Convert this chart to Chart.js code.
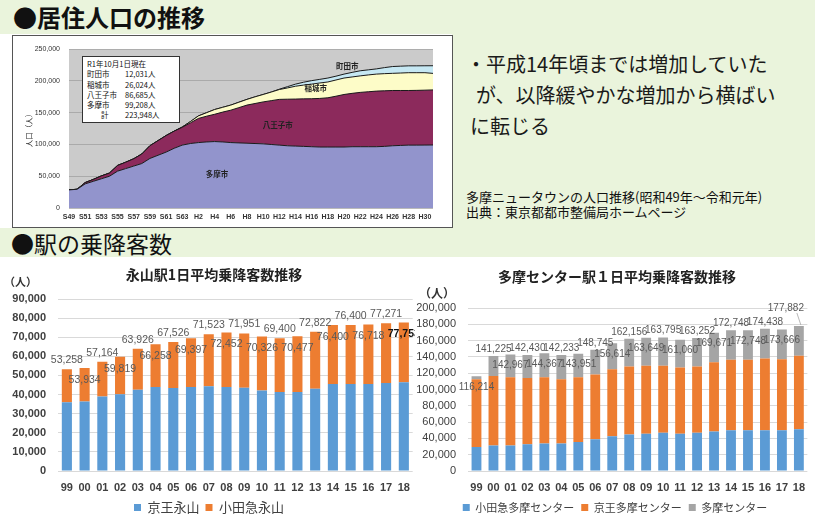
<!DOCTYPE html>
<html lang="ja">
<head>
<meta charset="utf-8">
<script src="https://cdn.jsdelivr.net/npm/chart.js@4.4.1/dist/chart.umd.min.js"></script>
<style>
  html, body { margin: 0; padding: 0; }
  body { width: 815px; height: 517px; overflow: hidden; position: relative; background: #fff;
         font-family: "Noto Sans CJK JP", sans-serif; color: #111; }
  .abs { position: absolute; }
  .band { position: absolute; background: #eaf4dc; }
  .head { position: absolute; font-size: 23px; line-height: 23px; white-space: nowrap; }
  #popFrame { left: 12px; top: 35px; width: 439px; height: 191px; border: 1px solid #555; background: #fff; }
  #note { left: 82px; top: 56px; width: 96px; height: 63px; border: 1px solid #333; background: #fff;
          font-size: 7.5px; line-height: 10.3px; padding-top: 2px; box-sizing: content-box; }
  #note div { display: flex; padding-left: 4px; white-space: nowrap; }
  #note .n { width: 38px; }
  #note .v { width: 28px; text-align: right; }
  #comment { left: 466px; top: 48px; font-size: 20px; line-height: 31px; white-space: nowrap; color: #1a1a1a; }
  #source { left: 466px; top: 189px; font-size: 13px; line-height: 15px; white-space: nowrap; color: #111; }
  canvas { position: absolute; }
</style>
</head>
<body>
<div class="band" style="left:0;top:0;width:815px;height:34px"></div>
<div class="band" style="left:452px;top:34px;width:363px;height:194px"></div>
<div class="band" style="left:0;top:228px;width:815px;height:29px"></div>

<div class="head" style="left:13px;top:5px;font-weight:700;font-size:24px">●居住人口の推移</div>
<div class="head" style="left:11px;top:232px">●駅の乗降客数</div>

<div id="popFrame" class="abs"></div>
<canvas id="pop" width="439" height="191" style="left:13px;top:36px"></canvas>

<div id="note" class="abs">
  <div>R1年10月1日現在</div>
  <div><span class="n">町田市</span><span class="v">12,031人</span></div>
  <div><span class="n">稲城市</span><span class="v">26,024人</span></div>
  <div><span class="n">八王子市</span><span class="v">86,685人</span></div>
  <div><span class="n">多摩市</span><span class="v">99,208人</span></div>
  <div><span class="n" style="padding-left:14px;width:24px">計</span><span class="v">223,948人</span></div>
</div>

<div id="comment" class="abs">
  <div>・平成14年頃までは増加していた</div>
  <div style="padding-left:10px">が、以降緩やかな増加から横ばい</div>
  <div style="padding-left:4px">に転じる</div>
</div>
<div id="source" class="abs">
  <div>多摩ニュータウンの人口推移(昭和49年～令和元年)</div>
  <div>出典：東京都都市整備局ホームページ</div>
</div>

<canvas id="nagayama" width="420" height="266" style="left:0;top:258px"></canvas>
<canvas id="tamaCenter" width="400" height="265" style="left:415px;top:258px;background:#fff"></canvas>

<script>
// 居住人口 (S49〜R1)
const popYears = ['S49','S50','S51','S52','S53','S54','S55','S56','S57','S58','S59','S60','S61','S62','S63',
  'H1','H2','H3','H4','H5','H6','H7','H8','H9','H10','H11','H12','H13','H14','H15','H16','H17','H18','H19',
  'H20','H21','H22','H23','H24','H25','H26','H27','H28','H29','H30','R1'];
const tamaCity = [28500,29500,38000,42000,46000,50000,58000,62000,66000,70000,78000,83000,88000,94000,99000,
  101500,103000,104000,104600,104000,103000,102500,102000,101500,101000,100000,99000,98000,97500,97000,96500,
  96000,96000,96000,96000,96500,96500,96500,96500,97000,98000,98500,99000,99000,99100,99208];
const hachiojiCity = [0,0,2000,3000,4500,5000,9000,10000,11500,15000,20000,23000,26000,27000,28000,
  32500,38000,40500,42900,47000,51000,55500,60000,63000,66000,69000,72000,73300,74000,74800,75500,
  76500,77500,80000,82700,84000,85500,86500,87500,87500,87000,86500,86000,86200,86400,86685];
const inagiCity = [0,0,0,0,0,0,0,0,0,0,0,0,0,0,500,
  2000,4000,5500,7500,7500,8000,8500,9000,10500,11700,13500,15500,17700,20200,21700,23000,
  24300,24900,25500,25900,25800,26000,26500,26800,27000,27000,27500,28000,27800,27500,26024];
const machidaCity = [0,0,0,0,0,0,0,0,0,0,0,0,0,0,0,
  0,0,0,0,0,0,0,0,0,0,0,500,2000,3300,4500,5500,
  5700,6200,6000,6200,7200,8000,8000,8200,9500,10700,10800,10800,10800,10900,12031];
const cityTags = [
  { text: '多摩市', x: 18.3, y: 53000 },
  { text: '八王子市', x: 25.8, y: 131000 },
  { text: '稲城市', x: 30.5, y: 189000 },
  { text: '町田市', x: 34.4, y: 223000 }
];

// 駅の乗降客数 (1999〜2018)
const stationYears = ['99','00','01','02','03','04','05','06','07','08','09','10','11','12','13','14','15','16','17','18'];
const keioNagayama = [36000,36400,39000,40200,42500,43900,43400,43900,44400,43900,43500,42100,41400,41400,43000,45500,45500,45500,46000,46500];
const odakyuNagayama = [17258,17534,18164,19619,21426,22358,24126,25497,27123,28552,28451,28226,28000,29077,29822,30900,30900,31218,31271,31253];
const odakyuTama = [29600,31200,31200,32900,33700,33700,35700,39000,42700,44800,45600,46800,45600,46800,48500,50100,50100,50100,50100,51300];
const keioTama = [82900,85400,83800,81300,81300,78800,79300,79300,82100,83300,83400,82200,81300,81300,85000,86300,86300,87900,87100,90000];
const monorailTama = [3714,24625,27967,28230,29367,29733,28951,30445,31814,34056,34649,34795,34160,35152,36171,36348,36348,36438,36466,36582];

const NUM = '"Liberation Sans", Arial, sans-serif';
const JP = '"Noto Sans CJK JP", sans-serif';

const plotBg = {
  id: 'plotBg',
  beforeDraw(chart, args, o) {
    if (!o.color) return;
    const { ctx, chartArea: a } = chart;
    ctx.save();
    ctx.fillStyle = o.color;
    ctx.fillRect(a.left, a.top, a.right - a.left, a.bottom - a.top);
    ctx.restore();
  }
};

const areaTags = {
  id: 'areaTags',
  afterDatasetsDraw(chart, args, o) {
    if (!o.items) return;
    const { ctx, scales: { x, y } } = chart;
    ctx.save();
    ctx.font = 'bold 7.5px ' + JP;
    ctx.fillStyle = '#222';
    ctx.textAlign = 'center';
    ctx.textBaseline = 'middle';
    o.items.forEach(t => ctx.fillText(t.text, x.getPixelForValue(t.x), y.getPixelForValue(t.y)));
    ctx.restore();
  }
};

const totalLabels = {
  id: 'totalLabels',
  afterDatasetsDraw(chart, args, o) {
    if (!o.enabled) return;
    const { ctx, scales: { y } } = chart;
    const meta = chart.getDatasetMeta(0);
    const last = meta.data.length - 1;
    ctx.save();
    ctx.textAlign = 'center';
    ctx.textBaseline = 'middle';
    meta.data.forEach((bar, i) => {
      const total = chart.data.datasets.reduce((s, d) => s + d.data[i], 0);
      const top = y.getPixelForValue(total);
      const up = (i % 2) === o.upParity;
      let px = bar.x;
      let py = up ? top - o.above : top + o.below;
      if (i === last && o.lastLift) {
        py = top - o.lastLift;
        px = bar.x - (o.lastShift || 0);
        ctx.strokeStyle = '#a6a6a6';
        ctx.lineWidth = 0.8;
        ctx.beginPath();
        ctx.moveTo(bar.x - 2, py + 5);
        ctx.lineTo(bar.x + 2, top - 1);
        ctx.stroke();
      }
      const bold = i === last && o.lastBold;
      ctx.font = (bold ? 'bold ' : '') + o.size + 'px ' + NUM;
      ctx.fillStyle = bold ? '#111' : '#595959';
      ctx.fillText(total.toLocaleString('en-US'), px, py);
    });
    ctx.restore();
  }
};

const captions = {
  id: 'captions',
  afterDraw(chart, args, o) {
    if (!o.items) return;
    const { ctx } = chart;
    ctx.save();
    ctx.textBaseline = 'middle';
    o.items.forEach(t => {
      ctx.font = t.font;
      ctx.fillStyle = t.color || '#222';
      ctx.textAlign = t.align || 'left';
      ctx.fillText(t.text, t.x, t.y);
    });
    ctx.restore();
  }
};

Chart.register(plotBg, areaTags, totalLabels, captions);

function areaSet(label, data, color) {
  return { label, data, backgroundColor: color, borderColor: '#1a1a1a', borderWidth: 1,
           pointRadius: 0, tension: 0, fill: label === '多摩市' ? 'origin' : '-1' };
}

new Chart(document.getElementById('pop'), {
  type: 'line',
  data: {
    labels: popYears,
    datasets: [
      areaSet('多摩市', tamaCity, '#9294cc'),
      areaSet('八王子市', hachiojiCity, '#8c2a5c'),
      areaSet('稲城市', inagiCity, '#fdfcc8'),
      areaSet('町田市', machidaCity, '#c6e8f3')
    ]
  },
  options: {
    responsive: false,
    animation: false,
    layout: { padding: { top: 12, right: 19, left: 0, bottom: 0 } },
    plugins: {
      legend: { display: false },
      tooltip: { enabled: false },
      plotBg: { color: '#cbcbcb' },
      areaTags: { items: cityTags }
    },
    scales: {
      x: {
        grid: { display: false, drawTicks: false },
        border: { display: false },
        afterFit: s => { s.height = 19; },
        ticks: {
          autoSkip: false, maxRotation: 0, minRotation: 0, padding: 5,
          color: '#333', font: { family: NUM, size: 7, weight: 'bold' },
          callback: function (v, i) { return i % 2 === 0 ? this.getLabelForValue(v) : ''; }
        }
      },
      y: {
        stacked: true,
        min: 0, max: 250000,
        afterFit: s => { s.width = 56; },
        grid: { color: '#9c9c9c', lineWidth: 0.7, drawTicks: false },
        border: { display: false },
        ticks: { stepSize: 50000, padding: 9, color: '#333', font: { family: NUM, size: 7 } },
        title: { display: true, text: '人口（人）', color: '#333', font: { family: JP, size: 7.5 }, padding: { top: 12 } }
      }
    }
  }
});

function barOptions(cfg) {
  return {
    responsive: false,
    animation: false,
    layout: { padding: { top: cfg.top, right: cfg.right, left: 0, bottom: 0 } },
    plugins: {
      tooltip: { enabled: false },
      legend: {
        position: 'bottom',
        labels: { boxWidth: 7, boxHeight: 7, padding: cfg.legendPad, color: '#404040',
                  font: { family: JP, size: cfg.legendSize } }
      },
      totalLabels: cfg.labels,
      captions: { items: cfg.captions }
    },
    scales: {
      x: {
        stacked: true,
        grid: { display: false, drawTicks: false },
        border: { display: false },
        afterFit: s => { s.height = 24; },
        ticks: { autoSkip: false, maxRotation: 0, minRotation: 0, padding: 10, color: '#404040',
                 font: { family: NUM, size: 11, weight: 'bold' } }
      },
      y: {
        stacked: true,
        min: 0, max: cfg.max,
        afterFit: s => { s.width = cfg.axisWidth; },
        grid: { color: '#d9d9d9', lineWidth: 1, drawTicks: false },
        border: { display: false },
        ticks: { stepSize: cfg.step, padding: 12, color: '#404040',
                 font: { family: NUM, size: 11, weight: cfg.tickWeight } }
      }
    }
  };
}

function barSet(label, data, color, pct) {
  return { label, data, backgroundColor: color, borderWidth: 0, categoryPercentage: 1, barPercentage: pct };
}

new Chart(document.getElementById('nagayama'), {
  type: 'bar',
  data: {
    labels: stationYears,
    datasets: [
      barSet('京王永山', keioNagayama, '#5b9bd5', 0.57),
      barSet('小田急永山', odakyuNagayama, '#ed7d31', 0.57)
    ]
  },
  options: barOptions({
    top: 41, right: 2, max: 90000, step: 10000, axisWidth: 58, tickWeight: 'bold',
    legendPad: 6, legendSize: 13,
    labels: { enabled: true, upParity: 0, above: 9, below: 12, size: 10.5, lastBold: true },
    captions: [
      { text: '永山駅1日平均乗降客数推移', x: 214, y: 17, align: 'center', font: 'bold 14px ' + JP, color: '#222' },
      { text: '（人）', x: 4, y: 24, font: 'bold 11px ' + JP, color: '#333' }
    ]
  })
});

new Chart(document.getElementById('tamaCenter'), {
  type: 'bar',
  data: {
    labels: stationYears,
    datasets: [
      barSet('小田急多摩センター', odakyuTama, '#5b9bd5', 0.58),
      barSet('京王多摩センター', keioTama, '#ed7d31', 0.58),
      barSet('多摩センター', monorailTama, '#a5a5a5', 0.58)
    ]
  },
  options: barOptions({
    top: 50, right: 0, max: 200000, step: 20000, axisWidth: 53, tickWeight: 'normal',
    legendPad: 7, legendSize: 11,
    labels: { enabled: true, upParity: 1, above: 7, below: 11, size: 10, lastLift: 18, lastShift: 13 },
    captions: [
      { text: '多摩センター駅１日平均乗降客数推移', x: 202, y: 19, align: 'center', font: 'bold 14px ' + JP, color: '#222' },
      { text: '（人）', x: 4, y: 35, font: 'bold 12px ' + JP, color: '#333' }
    ]
  })
});
</script>
</body>
</html>
